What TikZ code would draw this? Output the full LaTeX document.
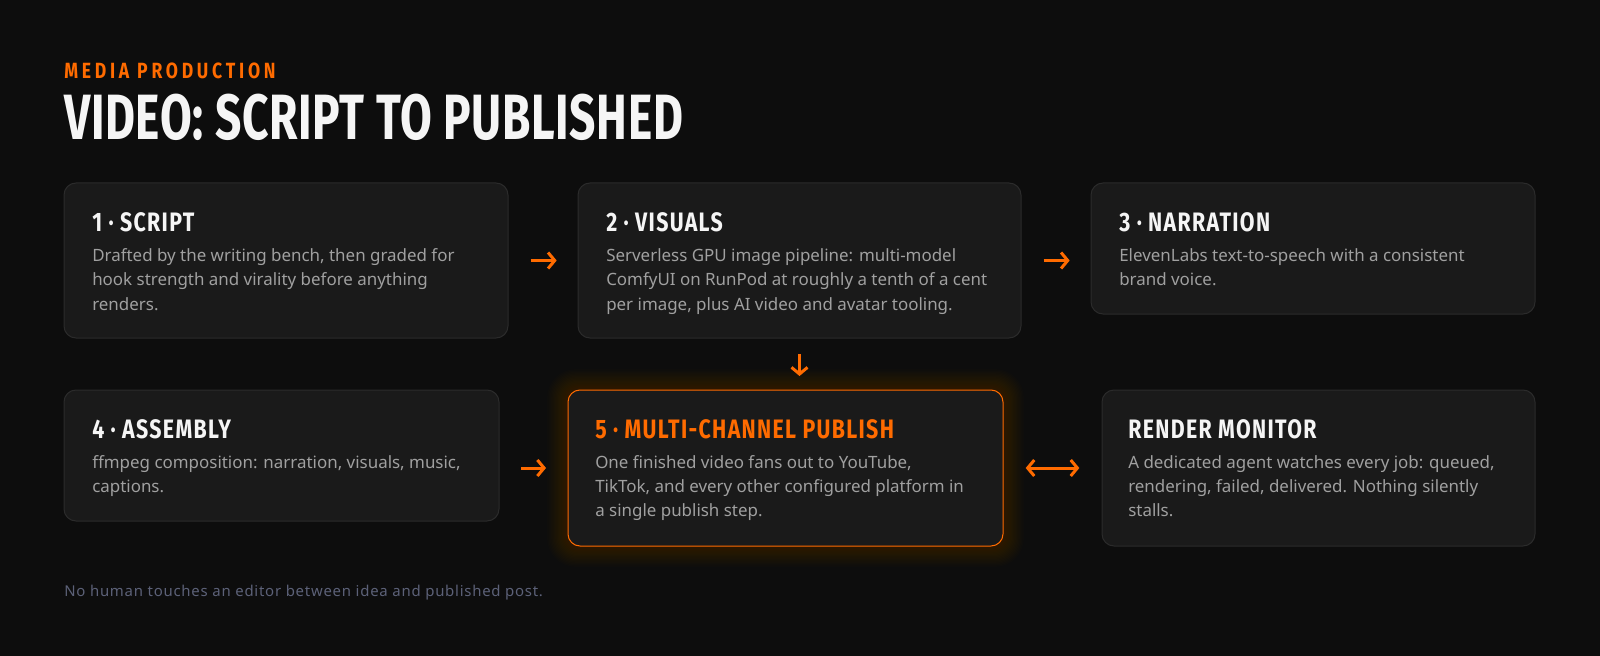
\documentclass[tikz,border=0pt]{standalone}
\usepackage{fontspec}
\setmainfont{Noto Sans}
\newfontfamily\headfont[FakeStretch=0.8]{Fira Sans}
\newfontfamily\titlefont[FakeStretch=0.72]{Fira Sans}
\usetikzlibrary{arrows.meta, positioning, calc, backgrounds}
\definecolor{pagebg}{HTML}{0D0D0D}
\definecolor{cardbg}{HTML}{1A1A1A}
\definecolor{cardline}{HTML}{2B2B2B}
\definecolor{accent}{HTML}{FF6B00}
\definecolor{headwhite}{HTML}{F5F5F5}
\definecolor{bodygray}{HTML}{A0A0A0}
\definecolor{notegray}{HTML}{5C6178}
\newcommand{\cardtext}[1]{\parbox[t]{400pt}{\raggedright #1}}
\tikzset{
    card/.style = {draw=cardline, fill=cardbg, line width=0.75pt, rounded corners=9pt,
        inner sep=0pt, outer sep=0pt, anchor=north west},
    hotcard/.style = {card, draw=accent},
    cardhead/.style = {anchor=base west, inner sep=0pt, text=headwhite,
        font=\headfont\bfseries\fontsize{20}{24}\selectfont\addfontfeature{LetterSpace=5}},
    cardbody/.style = {anchor=base west, inner sep=0pt, text=bodygray,
        font=\fontsize{12.7}{18}\selectfont},
    flow/.style = {draw=accent, line width=2.25pt, -{Straight Barb[length=5pt,width=12pt]}},
}

\begin{document}
\begin{tikzpicture}[x=0.75pt, y=-0.75pt]
\useasboundingbox (0,0) rectangle (1600,656);

% header
\node[anchor=base west, inner sep=0pt, text=accent,
      font=\headfont\bfseries\fontsize{16.5}{18}\selectfont\addfontfeature{LetterSpace=17}]
      (kicker) at (64,79) {MEDIA PRODUCTION};
\node[anchor=base west, inner sep=0pt, text=headwhite,
      font=\titlefont\bfseries\fontsize{48}{50}\selectfont\addfontfeature{LetterSpace=1}]
      (title) at (64,140) {VIDEO: SCRIPT TO PUBLISHED};

% cards
\node[card, minimum width=444*0.75pt, minimum height=155*0.75pt] (script) at (64,183) {};
\node[cardhead] at ($(script.north west)+(28,49)$) {1 · SCRIPT};
\node[cardbody] at ($(script.north west)+(28,79)$)
    {\cardtext{Drafted by the writing bench, then graded for\\hook strength and virality before anything\\renders.}};

\node[card, minimum width=443*0.75pt, minimum height=155*0.75pt] (visuals) at (578,183) {};
\node[cardhead] at ($(visuals.north west)+(28,49)$) {2 · VISUALS};
\node[cardbody] at ($(visuals.north west)+(28,79)$)
    {\cardtext{Serverless GPU image pipeline: multi-model\\ComfyUI on RunPod at roughly a tenth of a cent\\per image, plus AI video and avatar tooling.}};

\node[card, minimum width=444*0.75pt, minimum height=131*0.75pt] (narration) at (1091,183) {};
\node[cardhead] at ($(narration.north west)+(28,49)$) {3 · NARRATION};
\node[cardbody] at ($(narration.north west)+(28,79)$)
    {\cardtext{ElevenLabs text-to-speech with a consistent\\brand voice.}};

\node[card, minimum width=435*0.75pt, minimum height=131*0.75pt] (assembly) at (64,390) {};
\node[cardhead] at ($(assembly.north west)+(28,48)$) {4 · ASSEMBLY};
\node[cardbody] at ($(assembly.north west)+(28,78)$)
    {\cardtext{ffmpeg composition: narration, visuals, music,\\captions.}};

\node[hotcard, minimum width=435*0.75pt, minimum height=156*0.75pt] (publish) at (568,390) {};
\node[cardhead, text=accent] at ($(publish.north west)+(27,48)$) {5 · MULTI-CHANNEL PUBLISH};
\node[cardbody] at ($(publish.north west)+(27,78)$)
    {\cardtext{One finished video fans out to YouTube,\\TikTok, and every other configured platform in\\a single publish step.}};

\node[card, minimum width=433*0.75pt, minimum height=156*0.75pt] (monitor) at (1102,390) {};
\node[cardhead] at ($(monitor.north west)+(26,48)$) {RENDER MONITOR};
\node[cardbody] at ($(monitor.north west)+(26,78)$)
    {\cardtext{A dedicated agent watches every job: queued,\\rendering, failed, delivered. Nothing silently\\stalls.}};

% arrows
\draw[flow, shorten <=17pt, shorten >=16pt] (script.east) -- (visuals.west);
\draw[flow, shorten <=17pt, shorten >=16pt] (visuals.east) -- (visuals.east -| narration.west);
\draw[flow, shorten <=12pt, shorten >=10.5pt] (visuals.south) -- (visuals.south |- publish.north);
\draw[flow, shorten <=16.5pt, shorten >=16.5pt] (publish.west -| assembly.east) -- (publish.west);
\draw[flow, {Straight Barb[length=5pt,width=12pt]}-{Straight Barb[length=5pt,width=12pt]},
      shorten <=17pt, shorten >=17pt] (publish.east) -- (monitor.west);

\node[anchor=base west, inner sep=0pt, text=notegray,
      font=\fontsize{11.2}{12}\selectfont\addfontfeature{LetterSpace=5}]
      (note) at (64,596) {No human touches an editor between idea and published post.};

% page and glow
\begin{pgfonlayer}{background}
\fill[pagebg] (0,0) rectangle (1600,656);
\foreach \g in {1,...,16}
    \fill[accent, opacity=0.01, rounded corners=9pt+\g*0.75pt]
        ($(publish.north west)+(-1.3*\g,-1.3*\g)$) rectangle ($(publish.south east)+(1.3*\g,1.3*\g)$);
\end{pgfonlayer}
\end{tikzpicture}
\end{document}
